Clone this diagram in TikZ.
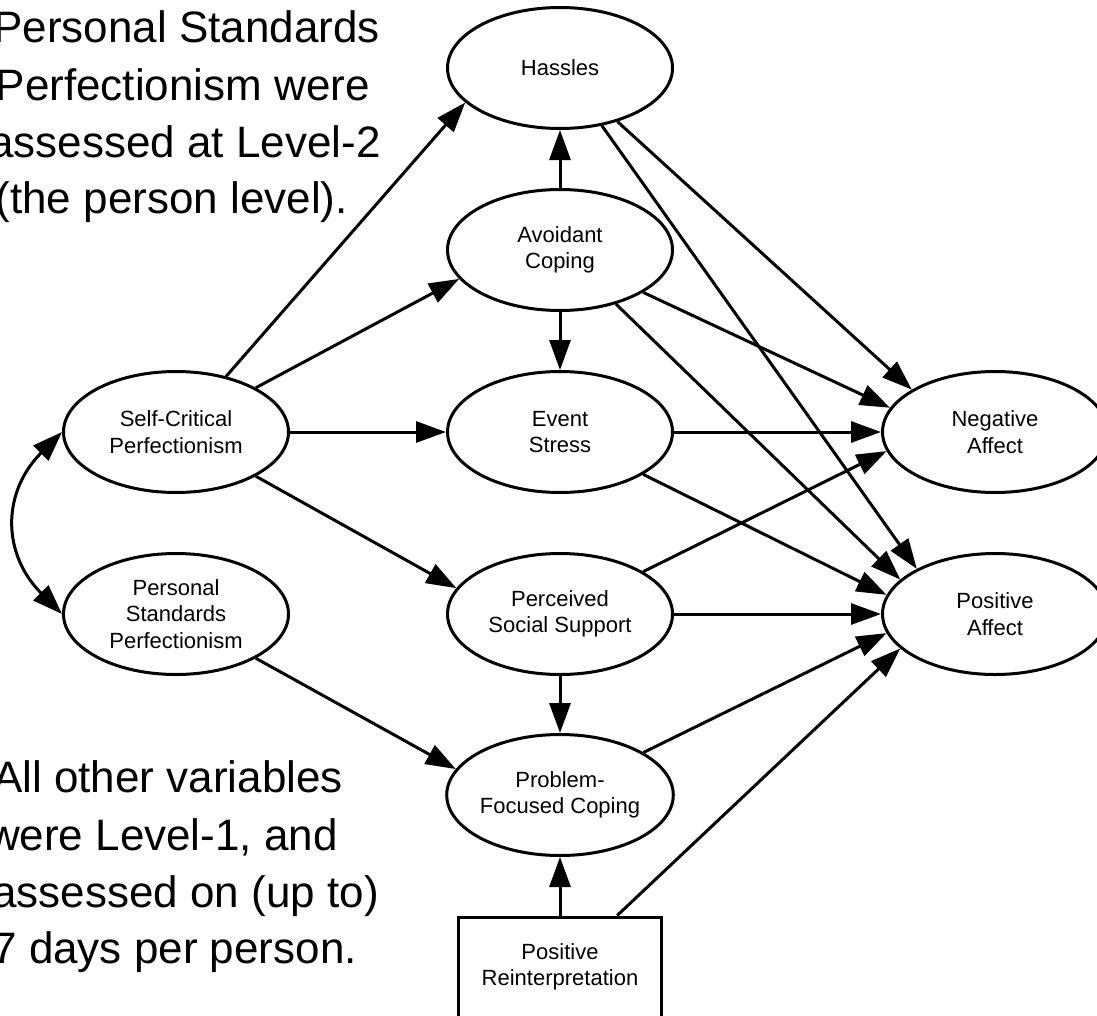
\documentclass[tikz,border=0pt]{standalone}
\usepackage{fontspec}
\setmainfont{Liberation Sans}
\usetikzlibrary{arrows.meta,shapes.geometric}
\begin{document}
\begin{tikzpicture}[x=1pt,y=-1pt,
  latent/.style={draw, ellipse, line width=3pt, minimum width=225pt, minimum height=121pt, inner sep=0pt, align=center, font=\fontsize{22}{26.5}\selectfont},
  observed/.style={draw, rectangle, line width=3pt, minimum width=203pt, minimum height=100pt, inner sep=0pt, align=center, font=\fontsize{22}{26.5}\selectfont},
  arr/.style={line width=3pt, -{Triangle[length=30pt,width=21pt]}},
  note/.style={font=\fontsize{44}{57}\selectfont, anchor=base east, inner sep=0pt}]
\useasboundingbox (0,0) rectangle (1097,1015);
\clip (0,0) rectangle (1097,1015);

% notes
\node[note] (n1) at (380,42) {Personal Standards};
\node[note] (n2) at (370,100) {Perfectionism were};
\node[note] (n3) at (381,157) {assessed at Level-2};
\node[note] (n4) at (348,213) {(the person level).};
\node[note] (m1) at (343,792) {All other variables};
\node[note] (m2) at (338,850) {were Level-1, and};
\node[note] (m3) at (379,907) {assessed on (up to)};
\node[note] (m4) at (357,963) {7 days per person.};

% variables
\node[latent] (has) at (560,68) {Hassles};
\node[latent] (avo) at (560,250) {Avoidant\\Coping};
\node[latent] (es) at (560,432) {Event\\Stress};
\node[latent] (pss) at (560,614) {Perceived\\Social Support};
\node[latent] (pfc) at (560,795) {Problem-\\Focused Coping};
\node[observed] (pr) at (560,967) {Positive\\Reinterpretation};
\node[latent] (sc) at (176,432) {Self-Critical\\Perfectionism};
\node[latent] (ps) at (176,614) {Personal\\Standards\\Perfectionism};
\node[latent] (na) at (995,432) {Negative\\Affect};
\node[latent] (pa) at (995,614) {Positive\\Affect};

% paths
\draw[arr] (sc.48) -- (has.200);
\draw[arr] (sc.29) -- (avo.196);
\draw[arr] (sc) -- (es);
\draw[arr] (sc.331) -- (pss.166);
\draw[arr] (ps.331) -- (pfc.166);
\draw[arr] (avo) -- (has);
\draw[arr] (avo) -- (es);
\draw[arr] (pss) -- (pfc);
\draw[arr] (pr) -- (pfc);
\draw[arr] (pr.42) -- (pa.200);
\draw[arr] (pfc.27) -- (pa.190);
\draw[arr] (pss) -- (pa);
\draw[arr] (pss.27) -- (na.190);
\draw[arr] (es) -- (na);
\draw[arr] (es.333) -- (pa.170);
\draw[arr] (avo.333) -- (na.167);
\draw[arr] (avo.316) -- (pa.160);
\draw[arr] (has.317) -- (na.153);
\draw[arr] (has.306) -- (pa.150);
\draw[line width=3pt, {Triangle[length=30pt,width=21pt]}-{Triangle[length=30pt,width=21pt]}]
  (sc.west) to[out=225, in=135, looseness=1.2] (ps.west);
\end{tikzpicture}
\end{document}
